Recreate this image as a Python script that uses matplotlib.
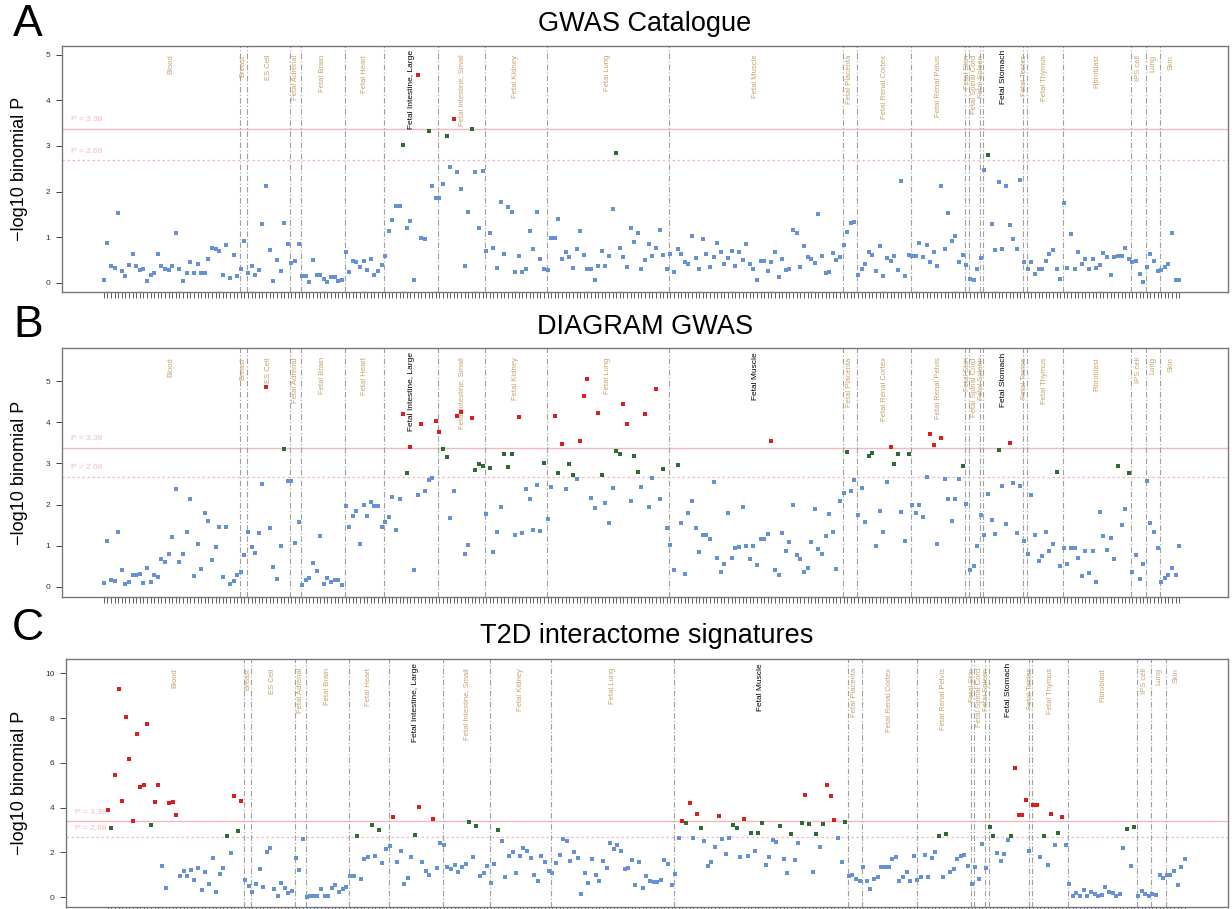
import matplotlib
matplotlib.use('Agg')
import matplotlib.pyplot as plt
import matplotlib.transforms as mtransforms
import numpy as np

plt.rcParams['font.family'] = ['Liberation Sans', 'DejaVu Sans']

# ---------------- data ----------------
tissues = ["Blood", "Breast", "ES Cell", "Fetal Adrenal", "Fetal Brain", "Fetal Heart",
           "Fetal Intestine, Large", "Fetal Intestine, Small", "Fetal Kidney", "Fetal Lung",
           "Fetal Muscle", "Fetal Placenta", "Fetal Renal Cortex", "Fetal Renal Pelvis",
           "Fetal Skin", "Fetal Spinal Cord", "Fetal Spleen", "Fetal Stomach", "Fetal Testes",
           "Fetal Thymus", "Fibroblast", "IPS cell", "Lung", "Skin"]
tissue_sizes = [38, 2, 12, 3, 12, 11, 15, 13, 17, 34, 48, 4, 15, 15, 1, 3, 1, 11, 1, 10, 19, 4, 4, 6]

gwas_catalogue = [
    0.07, 0.86, 0.37, 0.32, 1.52, 0.25, 0.15, 0.38, 0.64, 0.37,
    0.28, 0.31, 0.04, 0.18, 0.21, 0.64, 0.37, 0.31, 0.28, 0.37,
    1.10, 0.29, 0.04, 0.21, 0.45, 0.22, 0.42, 0.22, 0.22, 0.51,
    0.77, 0.75, 0.69, 0.16, 0.82, 0.11, 0.60, 0.15, 0.29, 0.92,
    0.22, 0.36, 0.17, 0.27, 1.29, 2.13, 0.71, 0.04, 0.49, 0.26,
    1.32, 0.84, 0.44, 0.47, 0.85, 0.15, 0.15, 0.01, 0.50, 0.18,
    0.17, 0.09, 0.01, 0.13, 0.12, 0.03, 0.07, 0.67, 0.23, 0.48,
    0.45, 0.34, 0.47, 0.27, 0.53, 0.16, 0.26, 0.38, 0.59, 1.13,
    1.37, 1.68, 1.68, 3.03, 1.21, 1.35, 0.07, 4.55, 0.99, 0.95,
    3.33, 2.11, 1.86, 1.86, 2.16, 3.22, 2.54, 3.60, 2.42, 2.05,
    0.37, 1.54, 3.36, 2.43, 1.20, 2.46, 0.69, 1.08, 0.77, 0.32,
    1.77, 0.64, 1.65, 1.56, 0.23, 0.58, 0.23, 0.31, 1.14, 0.73,
    1.56, 0.51, 0.31, 0.27, 0.98, 0.98, 1.39, 0.51, 0.67, 0.56,
    0.32, 0.75, 1.13, 0.60, 0.29, 0.29, 0.05, 0.36, 0.70, 0.37,
    0.58, 1.62, 2.84, 0.77, 0.56, 0.34, 1.21, 0.89, 1.08, 0.31,
    0.50, 0.84, 0.58, 0.77, 1.16, 0.61, 0.30, 0.63, 0.23, 0.73,
    0.64, 0.45, 0.41, 1.02, 0.54, 0.29, 0.95, 0.63, 0.34, 0.56,
    0.86, 0.67, 0.41, 0.55, 0.70, 0.37, 0.67, 0.50, 0.85, 0.40,
    0.31, 0.07, 0.48, 0.48, 0.25, 0.45, 0.67, 0.12, 0.51, 0.27,
    0.29, 1.15, 1.08, 0.34, 0.80, 0.56, 0.53, 0.44, 1.50, 0.59,
    0.22, 0.23, 0.65, 0.49, 0.56, 0.83, 1.12, 1.30, 1.33, 0.18,
    0.31, 0.42, 0.67, 0.60, 0.25, 0.81, 0.14, 0.54, 0.48, 0.59,
    0.27, 2.22, 0.14, 0.61, 0.58, 0.58, 0.88, 0.56, 0.82, 0.45,
    0.67, 0.36, 2.11, 0.74, 1.52, 0.91, 1.02, 0.45, 0.60, 0.38,
    0.09, 0.07, 0.31, 0.55, 2.48, 2.79, 1.29, 0.71, 2.21, 0.75,
    2.13, 1.27, 0.95, 0.75, 2.26, 0.45, 0.31, 0.45, 0.20, 0.29,
    0.30, 0.48, 0.64, 0.71, 0.31, 0.08, 1.75, 0.33, 1.07, 0.29,
    0.67, 0.41, 0.53, 0.29, 0.53, 0.32, 0.38, 0.65, 0.56, 0.17,
    0.56, 0.58, 0.58, 0.77, 0.53, 0.45, 0.48, 0.20, 0.02, 0.35,
    0.62, 0.47, 0.26, 0.27, 0.35, 0.42, 1.10, 0.07, 0.06]

diagram_gwas = [
    0.08, 1.10, 0.16, 0.13, 1.32, 0.40, 0.06, 0.12, 0.28, 0.28,
    0.30, 0.09, 0.45, 0.12, 0.28, 0.23, 0.67, 0.60, 0.80, 1.20,
    2.37, 0.59, 0.79, 1.32, 2.13, 0.25, 1.03, 0.44, 1.79, 1.61,
    0.65, 0.96, 1.45, 0.23, 1.45, 0.06, 0.15, 0.28, 0.37, 0.78,
    1.32, 0.96, 0.81, 1.30, 2.51, 4.86, 1.42, 0.47, 0.18, 0.98,
    3.36, 2.56, 2.56, 1.07, 1.57, 0.03, 0.16, 0.20, 0.58, 0.38,
    1.23, 0.06, 0.20, 0.11, 0.16, 0.16, 0.03, 1.97, 1.45, 1.71,
    1.83, 1.03, 2.00, 1.71, 2.07, 1.96, 1.96, 1.45, 1.58, 1.70,
    2.18, 1.37, 2.13, 4.20, 2.77, 3.41, 0.40, 2.22, 3.97, 2.34,
    2.59, 2.64, 4.04, 3.76, 3.36, 3.15, 1.66, 2.33, 4.15, 4.24,
    0.79, 1.01, 4.11, 2.84, 2.99, 2.94, 1.78, 2.88, 0.84, 1.32,
    1.95, 3.23, 2.91, 3.23, 1.26, 4.12, 1.30, 2.37, 2.14, 1.38,
    2.47, 1.35, 3.02, 1.65, 2.42, 4.16, 2.76, 3.48, 2.38, 2.98,
    2.71, 2.61, 3.54, 4.63, 5.06, 2.17, 1.91, 4.22, 2.71, 2.03,
    1.54, 2.40, 3.29, 3.23, 4.44, 3.96, 2.09, 3.17, 2.78, 2.43,
    4.19, 1.94, 2.65, 4.81, 2.14, 2.87, 1.44, 1.01, 0.40, 2.95,
    1.54, 0.30, 1.79, 2.08, 1.44, 0.84, 1.26, 1.27, 1.15, 2.55,
    0.71, 0.37, 0.55, 1.79, 0.71, 0.93, 0.96, 1.93, 0.98, 0.67,
    0.98, 0.53, 1.15, 1.15, 1.28, 3.54, 0.40, 0.28, 1.31, 0.86,
    1.08, 1.99, 0.76, 0.67, 0.35, 0.46, 1.08, 1.89, 0.92, 0.80,
    1.23, 1.76, 1.32, 0.42, 2.09, 2.28, 3.27, 2.34, 2.59, 1.74,
    2.41, 1.57, 3.19, 3.26, 1.00, 1.85, 1.32, 2.55, 3.40, 2.99,
    3.23, 1.81, 1.10, 3.23, 1.98, 1.80, 1.98, 1.69, 2.66, 3.71,
    3.45, 1.05, 3.61, 2.61, 2.14, 1.61, 2.13, 2.61, 2.93, 2.02,
    0.41, 0.50, 0.99, 1.74, 1.27, 2.25, 1.63, 1.29, 3.32, 2.46,
    1.52, 3.50, 2.53, 1.30, 2.45, 1.10, 0.80, 2.22, 1.25, 0.63,
    0.75, 1.33, 0.86, 1.03, 2.78, 0.50, 0.94, 0.55, 0.95, 0.94,
    0.71, 0.25, 0.88, 0.33, 0.86, 0.12, 1.81, 1.23, 0.89, 1.19,
    0.67, 2.93, 1.49, 1.88, 2.77, 0.36, 0.76, 0.18, 0.55, 2.56,
    1.54, 1.32, 0.93, 0.11, 0.20, 0.28, 0.45, 0.28, 0.98]

t2d_interactome = [
    3.88, 3.10, 5.45, 9.30, 4.29, 8.04, 6.15, 3.41, 7.28, 4.93,
    5.00, 7.75, 3.24, 4.26, 5.00, 1.41, 0.39, 4.21, 4.26, 3.65,
    0.95, 1.15, 0.94, 1.22, 0.77, 1.29, 0.31, 1.10, 0.58, 1.74,
    0.22, 1.03, 1.28, 2.74, 1.99, 4.51, 2.95, 4.30, 0.77, 0.51,
    0.22, 0.58, 1.25, 0.46, 2.01, 2.20, 0.36, 0.07, 0.63, 0.39,
    0.19, 0.25, 1.73, 1.21, 2.60, 0.01, 0.03, 0.03, 0.03, 0.36,
    0.06, 0.04, 0.39, 0.55, 0.24, 0.37, 0.45, 0.94, 0.94, 2.74,
    0.80, 1.70, 1.80, 3.24, 1.82, 2.99, 1.52, 2.14, 2.29, 3.59,
    1.58, 2.05, 0.58, 0.85, 1.77, 2.78, 4.02, 1.58, 1.18, 0.98,
    3.48, 1.28, 2.40, 2.31, 1.35, 1.25, 1.43, 1.12, 1.34, 1.49,
    3.36, 1.79, 3.18, 0.94, 1.09, 1.41, 0.64, 1.46, 2.99, 2.49,
    0.89, 1.82, 2.01, 1.09, 1.85, 2.20, 2.05, 1.73, 0.97, 0.71,
    1.83, 1.56, 1.15, 1.07, 1.52, 1.88, 2.59, 2.50, 1.61, 2.02,
    1.73, 0.13, 1.09, 0.63, 1.70, 0.98, 0.70, 1.61, 1.29, 2.41,
    2.16, 2.32, 2.05, 1.24, 1.32, 1.64, 0.54, 1.55, 0.40, 0.94,
    0.73, 0.67, 0.68, 0.76, 1.67, 1.47, 0.54, 1.03, 2.63, 3.40,
    3.32, 4.20, 2.62, 3.71, 3.07, 2.51, 1.40, 1.56, 2.23, 3.62,
    2.59, 1.93, 2.65, 3.21, 3.10, 1.79, 3.48, 1.82, 2.86, 2.05,
    2.86, 3.32, 1.44, 1.80, 2.56, 2.44, 3.17, 1.70, 1.09, 2.84,
    1.65, 2.41, 3.29, 4.54, 3.26, 1.12, 2.81, 2.23, 3.27, 5.03,
    4.51, 3.44, 2.66, 1.56, 3.35, 0.94, 1.00, 0.80, 0.73, 1.34,
    0.71, 0.34, 0.82, 0.89, 1.34, 1.34, 1.34, 1.71, 1.80, 0.74,
    0.91, 1.12, 0.73, 1.82, 0.76, 0.91, 1.88, 0.91, 1.76, 2.01,
    2.74, 0.89, 2.81, 1.13, 1.26, 1.70, 1.82, 1.90, 1.38, 0.57,
    1.35, 0.82, 2.38, 1.29, 3.15, 2.74, 1.95, 1.61, 1.93, 2.57,
    2.72, 5.79, 3.66, 3.66, 4.33, 2.07, 4.12, 4.12, 1.79, 2.75,
    1.44, 3.72, 2.34, 2.87, 3.56, 2.32, 0.57, 0.06, 0.19, 0.06,
    0.31, 0.03, 0.24, 0.13, 0.07, 0.10, 0.43, 0.21, 0.16, 0.04,
    0.13, 2.19, 3.04, 1.40, 3.14, 0.03, 0.25, 0.12, 0.06, 0.13,
    0.10, 0.98, 0.85, 0.97, 0.97, 1.16, 0.55, 1.35, 1.70]

strict_threshold = 3.38
lenient_threshold = 2.68

panel_letters = ["A", "B", "C"]
panel_titles = ["GWAS Catalogue", "DIAGRAM GWAS", "T2D interactome signatures"]
panel_data = [gwas_catalogue, diagram_gwas, t2d_interactome]
panel_highlight = [["Fetal Intestine, Large", "Fetal Stomach"],
                   ["Fetal Intestine, Large", "Fetal Muscle", "Fetal Stomach"],
                   ["Fetal Intestine, Large", "Fetal Muscle", "Fetal Stomach"]]
panel_yticks = [[0, 1, 2, 3, 4, 5], [0, 1, 2, 3, 4, 5], [0, 2, 4, 6, 8, 10]]

# ---------------- layout (pixel based) ----------------
W, H = 1232, 909
# left, right, top, bottom in pixels
axes_px = [(61.7, 1228, 45.7, 292.3), (61.7, 1228, 348.3, 596.7), (65.7, 1228.3, 659, 906.7)]
xlims = [(-11.63, 311.5), (-11.63, 311.5), (-11.62, 310.0)]
ylims = [(-0.21, 5.197), (-0.243, 5.80), (-0.43, 10.64)]
title_y = [24, 327, 636]
letter_y = [24, 325, 629]

BLUE = '#6692d4'
GREEN = '#2e6a34'
RED = '#d81e1e'
TAN = '#c4a270'
PINK = '#efb9c6'
LINEGREY = '#a0a0a0'

fig = plt.figure(figsize=(W / 100, H / 100), dpi=100)

starts = np.concatenate([[0], np.cumsum(tissue_sizes)[:-1]])
n = int(np.sum(tissue_sizes))

for k in range(3):
    l, r, t, b = axes_px[k]
    ax = fig.add_axes([l / W, 1 - b / H, (r - l) / W, (b - t) / H])
    vals = np.array(panel_data[k])
    x = np.arange(len(vals))
    col = np.where(vals > strict_threshold, RED, np.where(vals > lenient_threshold, GREEN, BLUE))
    for c in (BLUE, GREEN, RED):
        m = col == c
        ax.plot(x[m], vals[m], linestyle='none', marker='s', markersize=3.4,
                markerfacecolor=c, markeredgewidth=0, zorder=3)

    ax.set_xlim(*xlims[k])
    ax.set_ylim(*ylims[k])

    # threshold lines
    ax.axhline(strict_threshold, color=PINK, lw=1.0, zorder=1)
    ax.axhline(lenient_threshold, color=PINK, lw=0.9, ls=(0, (2, 2)), zorder=1)
    trans_lbl = mtransforms.blended_transform_factory(ax.transAxes, ax.transData)
    for thr, txt in ((strict_threshold, "P = 3.38"), (lenient_threshold, "P = 2.68")):
        ax.text(0.008, thr, txt, transform=trans_lbl + mtransforms.ScaledTranslation(0, 4 / 72, fig.dpi_scale_trans),
                fontsize=6.0, color=PINK, ha='left', va='bottom')

    # tissue boundaries and labels
    trans_top = mtransforms.blended_transform_factory(ax.transData, ax.transAxes)
    for j, (name, s, sz) in enumerate(zip(tissues, starts, tissue_sizes)):
        if j > 0:
            ax.axvline(s - 0.25, color=LINEGREY, lw=0.8, ls=(0, (5, 2, 1, 2)), zorder=1)
        cx = s + (sz - 1) / 2 + 0.2
        hl = name in panel_highlight[k]
        off = -3.0 if hl else -6.5
        ax.text(cx, 1.0, name, rotation=90, ha='center', va='top',
                transform=trans_top + mtransforms.ScaledTranslation(0, off / 72, fig.dpi_scale_trans),
                fontsize=6.0 if hl else 5.5, color='black' if hl else TAN, zorder=2)

    # axes styling
    ax.set_xticks(np.arange(n))
    ax.set_xticklabels([])
    ax.tick_params(axis='x', length=4, width=0.6, color='#444444')
    ax.set_yticks(panel_yticks[k])
    ax.set_yticklabels([str(v) for v in panel_yticks[k]])
    ax.tick_params(axis='y', length=4, width=0.7, color='#444444', labelsize=6, labelcolor='#333333', pad=4)
    for sp in ax.spines.values():
        sp.set_color('#777777')
        sp.set_linewidth(1.0)

    cy = (t + b) / 2
    fig.text(20 / W, 1 - cy / H, "\u2212log10 binomial P", rotation=90, ha='center', va='center', fontsize=13)
    fig.text((l + r) / 2 / W, 1 - title_y[k] / H, panel_titles[k], ha='center', va='center', fontsize=19.5)
    fig.text(28 / W, 1 - letter_y[k] / H, panel_letters[k], ha='center', va='center', fontsize=32)

fig.savefig('out.png', dpi=100)
